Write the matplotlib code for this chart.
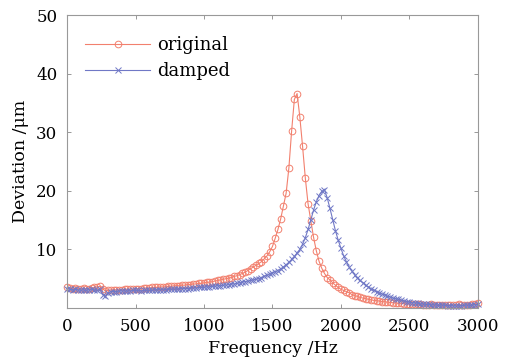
import numpy as np
import matplotlib
matplotlib.use("Agg")
import matplotlib.pyplot as plt

plt.rcParams['font.family'] = ['DejaVu Serif']
plt.rcParams['mathtext.fontset'] = 'dejavuserif'

# frequency grid, 20 Hz step
freq = np.arange(0, 3001, 20)

original = [
    3.5, 3.4, 3.3, 3.4, 3.3, 3.3, 3.4, 3.3, 3.3, 3.4,    # 0-180
    3.5, 3.6, 3.7, 3.3, 2.9, 3.0, 3.1, 3.1, 3.1, 3.1,    # 200-380
    3.1, 3.2, 3.2, 3.2, 3.2, 3.3, 3.3, 3.3, 3.4, 3.4,    # 400-580
    3.4, 3.5, 3.5, 3.5, 3.6, 3.6, 3.6, 3.7, 3.7, 3.8,    # 600-780
    3.8, 3.8, 3.9, 3.9, 4.0, 4.0, 4.1, 4.1, 4.2, 4.2,    # 800-980
    4.3, 4.4, 4.4, 4.5, 4.6, 4.7, 4.8, 4.9, 5.0, 5.1,    # 1000-1180
    5.2, 5.4, 5.5, 5.7, 5.9, 6.1, 6.4, 6.7, 7.0, 7.3,    # 1200-1380
    7.6, 7.9, 8.4, 8.9, 9.6, 10.5, 11.9, 13.4, 15.2, 17.4,   # 1400-1580
    19.6, 23.9, 30.2, 35.6, 36.6, 32.6, 27.6, 22.2, 17.8, 14.9,  # 1600-1780
    12.1, 9.8, 8.0, 6.8, 5.9, 5.2, 4.8, 4.3, 3.9, 3.5,   # 1800-1980
    3.2, 3.0, 2.8, 2.6, 2.3, 2.1, 2.0, 1.8, 1.7, 1.6,    # 2000-2180
    1.5, 1.4, 1.3, 1.25, 1.2, 1.1, 1.05, 1.0, 0.95, 0.9,  # 2200-2380
    0.85, 0.8, 0.8, 0.75, 0.7, 0.7, 0.65, 0.6, 0.6, 0.6,  # 2400-2580
    0.55, 0.5, 0.55, 0.6, 0.5, 0.5, 0.55, 0.5, 0.5, 0.55,  # 2600-2780
    0.5, 0.5, 0.55, 0.6, 0.5, 0.45, 0.5, 0.55, 0.6, 0.7,  # 2800-2980
    0.8,                                                  # 3000
]

damped = [
    3.3, 3.2, 3.1, 3.2, 3.1, 3.0, 3.1, 3.0, 3.1, 3.2,    # 0-180
    3.1, 3.0, 3.2, 2.3, 2.0, 2.6, 2.8, 2.8, 2.8, 2.9,    # 200-380
    2.9, 2.9, 2.9, 2.9, 3.0, 3.0, 3.0, 2.9, 3.0, 3.0,    # 400-580
    3.0, 3.0, 3.1, 3.1, 3.1, 3.1, 3.1, 3.2, 3.2, 3.2,    # 600-780
    3.2, 3.3, 3.3, 3.3, 3.3, 3.4, 3.4, 3.4, 3.5, 3.5,    # 800-980
    3.5, 3.6, 3.6, 3.7, 3.7, 3.8, 3.8, 3.9, 3.9, 4.0,    # 1000-1180
    4.1, 4.1, 4.2, 4.3, 4.4, 4.5, 4.6, 4.7, 4.8, 4.9,    # 1200-1380
    5.0, 5.2, 5.4, 5.6, 5.8, 6.0, 6.2, 6.4, 6.7, 7.0,    # 1400-1580
    7.4, 7.8, 8.3, 8.8, 9.4, 10.0, 10.9, 12.0, 13.4, 15.0,  # 1600-1780
    16.7, 18.1, 19.2, 19.9, 20.2, 18.8, 17.0, 15.1, 13.2, 11.6,  # 1800-1980
    10.2, 8.9, 7.9, 7.0, 6.3, 5.7, 5.2, 4.7, 4.3, 3.9,   # 2000-2180
    3.6, 3.3, 3.0, 2.8, 2.6, 2.4, 2.2, 2.0, 1.9, 1.7,    # 2200-2380
    1.6, 1.5, 1.35, 1.25, 1.1, 1.0, 0.9, 0.85, 0.8, 0.7,  # 2400-2580
    0.7, 0.6, 0.6, 0.55, 0.5, 0.5, 0.45, 0.5, 0.45, 0.4,  # 2600-2780
    0.4, 0.35, 0.3, 0.35, 0.4, 0.45, 0.5, 0.45, 0.5, 0.55,  # 2800-2980
    0.6,                                                  # 3000
]

xticks = [0, 500, 1000, 1500, 2000, 2500, 3000]
yticks = [10, 20, 30, 40, 50]

red = '#f2806e'
blue = '#7078c6'

fig = plt.figure(figsize=(5.16, 3.63), dpi=100)
ax = fig.add_axes([0.130, 0.1515, 0.796, 0.807])

ax.plot(freq, original, color=red, lw=0.8, marker='o', ms=4.8,
        mfc='none', mew=0.7, label='original', clip_on=False)
ax.plot(freq, damped, color=blue, lw=0.8, marker='x', ms=4,
        mew=0.7, label='damped', clip_on=False)

ax.set_xlim(0, 3000)
ax.set_ylim(0, 50)
ax.set_xticks(xticks)
ax.set_yticks(yticks)
ax.tick_params(direction='in', length=3, width=0.6, color='#888888',
               labelsize=12, top=True, right=True, pad=7)
for s in ax.spines.values():
    s.set_color('#999999')
    s.set_linewidth(0.8)

ax.set_xlabel('Frequency /Hz', fontsize=12.5, labelpad=4)
ax.set_ylabel('Deviation /\u03bcm', fontsize=12.5, labelpad=5)

ax.legend(loc='upper left', bbox_to_anchor=(0.0, 0.99), frameon=False,
          fontsize=13, handlelength=3.6, handletextpad=0.4,
          labelspacing=0.45, borderaxespad=0.6)

fig.savefig('out.png', dpi=100)
